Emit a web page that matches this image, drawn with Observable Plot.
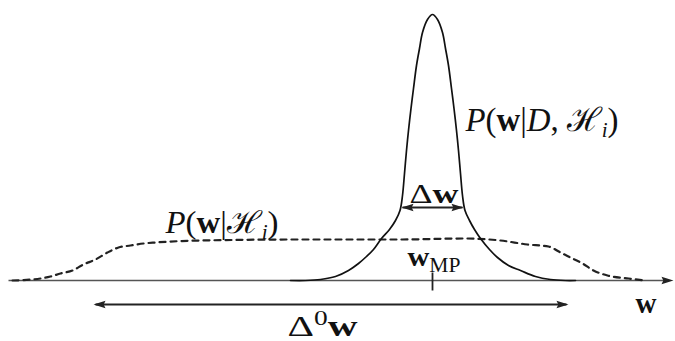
<!DOCTYPE html>
<html><head><meta charset="utf-8">
<script src="https://cdn.jsdelivr.net/npm/d3@7"></script>
<script src="https://cdn.jsdelivr.net/npm/@observablehq/plot@0.6"></script>
<style>body{margin:0;background:#fff} #chart svg{display:block;overflow:visible}</style>
</head><body><div id="chart"></div>
<script>
// Posterior P(w|D,H_i) — solid curve
const posteriorW = [290, 305, 320, 335, 348, 358, 366, 373, 381, 389, 395, 399.5, 402, 404, 406, 408, 410.5, 413, 416, 419, 422, 427, 432, 437, 442, 445, 448, 451, 453.5, 456, 458, 460, 462, 464.5, 469, 474, 480, 489, 497, 508, 520, 535, 550, 565, 575];
const posteriorP = [0, 0, 1, 4, 10, 17, 24, 31, 42, 51, 60, 70, 85, 107, 130, 150, 172, 192, 215, 232, 248, 261, 266, 261, 248, 232, 215, 192, 172, 150, 130, 107, 85, 70, 60, 51, 42, 31, 23, 15, 10, 4, 1, 0, 0];
// Prior P(w|H_i) — dashed curve
const priorW = [12, 40, 50, 60, 72, 83, 95, 107, 118, 130, 143, 155, 200, 300, 400, 463, 500, 527, 548, 560, 570, 582, 593, 607, 628, 645];
const priorP = [0, 2, 4, 7, 10, 16, 21, 28, 33, 35, 37, 38, 40, 41, 41, 42, 40, 36, 34, 28, 23, 17, 10, 5, 2, 0];
// Axis and annotation segments
const axisX = [8, 668]; const axisY = 0;
const segX1 = [95, 402, 432]; const segX2 = [566, 462, 432];
const segY1 = [-24, 73, 8];   const segY2 = [-24, 73, -10];
// Arrowheads (tip positions and direction)
const headX = [673, 93, 568, 401, 463];
const headY = [0, -24, -24, 73, 73];
const headDir = ["right", "left", "right", "left", "right"];
// Labels
const labelPlain = ["P(w|D, ℋi)", "P(w|ℋi)", "Δw", "wMP", "Δ0w", "w"];
const labelX = [465, 165, 409, 407, 287, 635];
const labelY = [150, 48, 78, 15, -55, -32];
const labelSize = [33, 31, 27, 28, 30, 29];
const labelWidth = [153, 113, 49, 53, 70, 21];

const rich = [
  `<tspan font-style="italic">P</tspan>(<tspan font-weight="bold">w</tspan>|<tspan font-style="italic">D</tspan>, ℋ<tspan font-style="italic" font-size="21" dy="6">i</tspan><tspan dy="-6">)</tspan>`,
  `<tspan font-style="italic">P</tspan>(<tspan font-weight="bold">w</tspan>|ℋ<tspan font-style="italic" font-size="20" dy="6">i</tspan><tspan dy="-6">)</tspan>`,
  `Δ<tspan font-weight="bold">w</tspan>`,
  `<tspan font-weight="bold">w</tspan><tspan font-size="20" dy="6">MP</tspan>`,
  `Δ<tspan font-size="20" dy="-11">0</tspan><tspan font-weight="bold" dy="11">w</tspan>`,
  `<tspan font-weight="bold">w</tspan>`
];

const posterior = posteriorW.map((w, i) => ({w, p: posteriorP[i]}));
const prior = priorW.map((w, i) => ({w, p: priorP[i]}));
const segs = segX1.map((x1, i) => ({x1, x2: segX2[i], y1: segY1[i], y2: segY2[i]}));
const axis = [{x1: axisX[0], x2: axisX[1], y: axisY}];
const heads = headX.map((x, i) => ({x, y: headY[i], dir: headDir[i]}));
const labels = labelPlain.map((t, i) => ({t, x: labelX[i], y: labelY[i], size: labelSize[i]}));

function headSymbol(sign) {
  return {draw(ctx, size) {
    const L = 3 * Math.sqrt(size / Math.PI), W = L * 0.32;
    ctx.moveTo(0, 0); ctx.lineTo(-sign * L, -W); ctx.lineTo(-sign * L * 0.85, 0); ctx.lineTo(-sign * L, W); ctx.closePath();
  }};
}

const svg = Plot.plot({
  width: 675, height: 341,
  marginTop: 0, marginBottom: 0, marginLeft: 0, marginRight: 0,
  x: {domain: [0, 675], range: [0, 675], axis: null},
  y: {domain: [-61, 280], range: [341, 0], axis: null},
  style: {background: "#fff"},
  marks: [
    Plot.link(axis, {x1: "x1", x2: "x2", y1: "y", y2: "y", stroke: "#555", strokeWidth: 1.4}),
    Plot.link(segs, {x1: "x1", x2: "x2", y1: "y1", y2: "y2", stroke: "#222", strokeWidth: 1.8}),
    Plot.dot(heads.filter(d => d.dir === "right"), {x: "x", y: "y", r: 4, symbol: headSymbol(1), fill: "#222", stroke: "none"}),
    Plot.dot(heads.filter(d => d.dir === "left"), {x: "x", y: "y", r: 4, symbol: headSymbol(-1), fill: "#222", stroke: "none"}),
    Plot.line(prior, {x: "w", y: "p", curve: "monotone-x", stroke: "#222", strokeWidth: 2.2, strokeDasharray: "6,5"}),
    Plot.line(posterior, {x: "w", y: "p", curve: "catmull-rom", stroke: "#111", strokeWidth: 1.7}),
    Plot.text(labels, {x: "x", y: "y", text: "t", fontSize: "size", textAnchor: "start", lineAnchor: "bottom", fontFamily: "Liberation Serif", fill: "#111"})
  ]
});
svg.querySelectorAll('g[aria-label="text"] text').forEach((t, i) => {
  t.innerHTML = rich[i];
  t.setAttribute("textLength", labelWidth[i]);
  t.setAttribute("lengthAdjust", "spacingAndGlyphs");
});
document.getElementById("chart").append(svg);
</script>
</body></html>
